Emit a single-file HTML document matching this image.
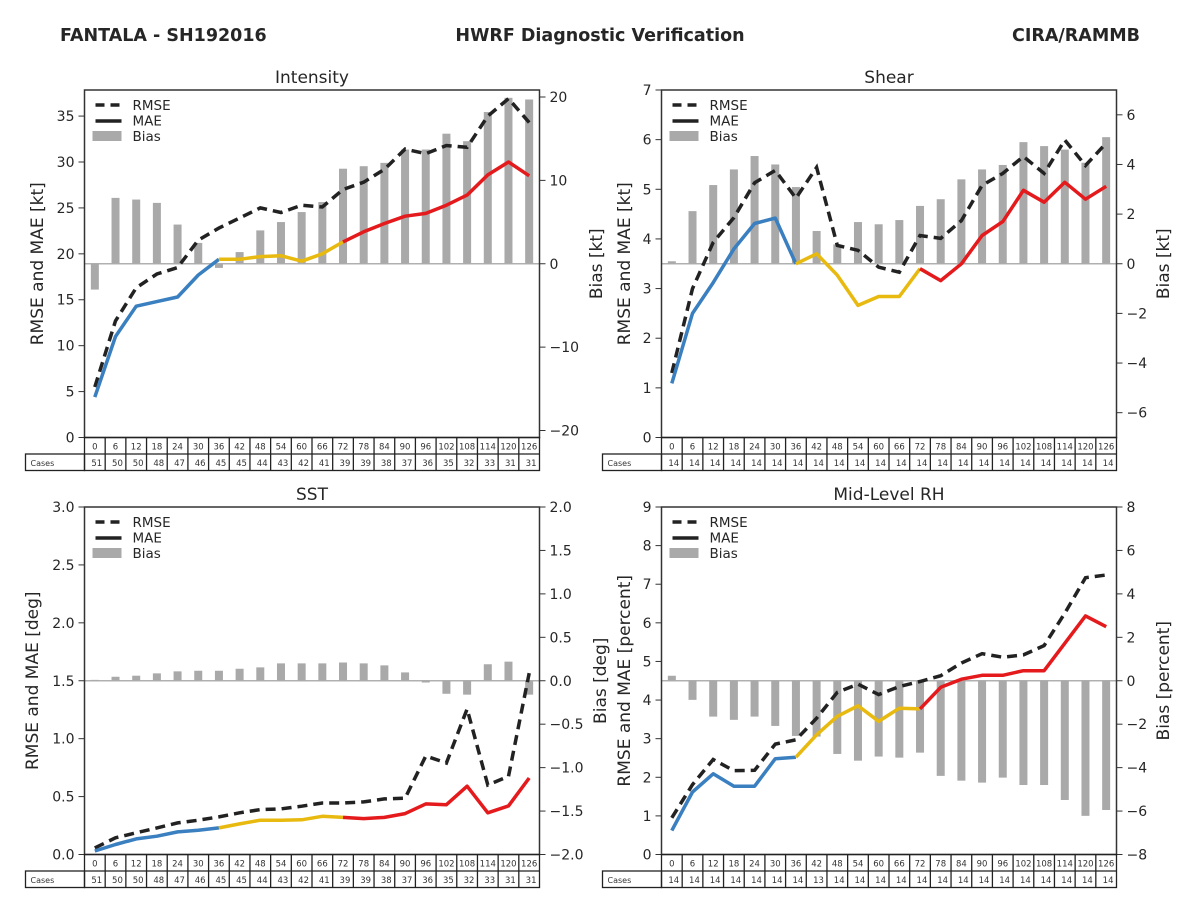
<!DOCTYPE html>
<html><head><meta charset="utf-8"><style>
html,body{margin:0;padding:0;background:#fff;}
svg{display:block;font-family:"DejaVu Sans","Liberation Sans",sans-serif;}
</style></head><body>
<svg id="fig" width="1200" height="900" viewBox="0 0 1200 900" xmlns="http://www.w3.org/2000/svg">
<text x="60" y="41" font-size="17.5" font-weight="bold" fill="#262626">FANTALA - SH192016</text>
<text x="600" y="41" font-size="17.5" font-weight="bold" fill="#262626" text-anchor="middle">HWRF Diagnostic Verification</text>
<text x="1140" y="41" font-size="17.5" font-weight="bold" fill="#262626" text-anchor="end">CIRA/RAMMB</text>
</svg>
<script>
const hours = [0,6,12,18,24,30,36,42,48,54,60,66,72,78,84,90,96,102,108,114,120,126];
const casesA = [51,50,50,48,47,46,45,45,44,43,42,41,39,39,38,37,36,35,32,33,31,31];
const casesShear = [14,14,14,14,14,14,14,14,14,14,14,14,14,14,14,14,14,14,14,14,14,14];
const casesRH = [14,14,14,14,14,14,14,13,14,14,14,14,14,14,14,14,14,14,14,14,14,14];

const intMAE = [4.4,11,14.3,14.8,15.3,17.7,19.4,19.4,19.7,19.8,19.2,20.0,21.3,22.4,23.3,24.1,24.4,25.3,26.4,28.6,30.0,28.5];
const intRMSE = [5.5,12.7,16.3,17.8,18.5,21.5,22.8,23.9,25.0,24.5,25.3,25.1,27.0,27.8,29.2,31.4,30.9,31.8,31.6,35.0,36.9,34.3];
const intBias = [-3.1,7.9,7.7,7.3,4.7,2.5,-0.5,1.4,4.0,5.0,6.2,7.4,11.4,11.7,12.1,13.7,13.7,15.6,14.7,18.2,19.9,19.7];

const shMAE = [1.09,2.5,3.12,3.8,4.31,4.42,3.5,3.7,3.27,2.66,2.84,2.84,3.4,3.16,3.5,4.07,4.35,4.98,4.74,5.14,4.8,5.06];
const shRMSE = [1.3,3.0,3.93,4.43,5.13,5.38,4.82,5.44,3.87,3.77,3.43,3.33,4.07,4.01,4.37,5.08,5.32,5.66,5.32,5.99,5.48,5.93];
const shBias = [0.1,2.12,3.17,3.8,4.34,4.0,3.09,1.32,0.78,1.68,1.59,1.76,2.33,2.6,3.4,3.8,3.98,4.9,4.74,4.6,4.07,5.1];

const sstMAE = [0.03,0.086,0.135,0.158,0.195,0.21,0.23,0.264,0.296,0.296,0.30,0.33,0.32,0.31,0.32,0.353,0.437,0.43,0.59,0.36,0.42,0.66];
const sstRMSE = [0.057,0.144,0.187,0.23,0.273,0.296,0.325,0.36,0.388,0.394,0.417,0.445,0.445,0.454,0.48,0.486,0.85,0.79,1.256,0.60,0.675,1.566];
const sstBias = [0.01,0.046,0.058,0.085,0.108,0.115,0.115,0.138,0.154,0.2,0.2,0.2,0.21,0.2,0.177,0.096,-0.02,-0.15,-0.16,0.19,0.22,-0.16];

const rhMAE = [0.62,1.62,2.09,1.77,1.77,2.48,2.52,3.1,3.58,3.85,3.45,3.79,3.77,4.33,4.54,4.64,4.64,4.76,4.76,5.47,6.18,5.9];
const rhRMSE = [0.95,1.81,2.46,2.17,2.18,2.86,2.97,3.53,4.2,4.41,4.14,4.35,4.48,4.63,4.96,5.2,5.11,5.17,5.41,6.25,7.17,7.24];
const rhBias = [0.23,-0.88,-1.65,-1.8,-1.65,-2.08,-2.54,-2.57,-3.37,-3.68,-3.49,-3.54,-3.31,-4.38,-4.6,-4.69,-4.46,-4.8,-4.8,-5.49,-6.22,-5.95];

const intLeftTicks = [0,5,10,15,20,25,30,35];
const intRightTicks = [20,10,0,-10,-20];
const shLeftTicks = [0,1,2,3,4,5,6,7];
const shRightTicks = [6,4,2,0,-2,-4,-6];
const sstLeftTicks = ["0.0","0.5","1.0","1.5","2.0","2.5","3.0"];
const sstRightTicks = ["2.0","1.5","1.0","0.5","0.0","-0.5","-1.0","-1.5","-2.0"];
const rhLeftTicks = [0,1,2,3,4,5,6,7,8,9];
const rhRightTicks = [8,6,4,2,0,-2,-4,-6,-8];

const NS = "http://www.w3.org/2000/svg";
const fig = document.getElementById('fig');
function mk(tag, attrs, parent, txt){
  const e = document.createElementNS(NS, tag);
  for (const k in attrs) e.setAttribute(k, attrs[k]);
  if (txt !== undefined) e.textContent = txt;
  (parent||fig).appendChild(e);
  return e;
}
function fmtMinus(s){ return String(s).replace('-', '\u2212'); }

function panel(cfg){
  const g = mk('g', {});
  
  
  const L = cfg.x0, R = cfg.x1, T = cfg.y0, B = cfg.y1;
  const n = hours.length, cw = (R - L) / n;
  const xs = i => L + cw * (i + 0.5);
  const yl = v => B - (v - 0) / cfg.lmax * (B - T);
  const yr = v => B - (v + cfg.rmax) / (2 * cfg.rmax) * (B - T);

  const t = mk('text', {x:(L+R)/2, y:T-7, 'font-size':17, 'text-anchor':'middle', fill:'#262626'}, g, cfg.title);
  
  

  const zl = mk('line', {x1:L, x2:R, y1:yr(0), y2:yr(0), stroke:'#b0b0b0', 'stroke-width':1.5}, g);
  
  

  cfg.bias.forEach((v, i) => {
    const y0 = yr(0), y1 = yr(v);
    const r = mk('rect', {x:xs(i)-4, y:Math.min(y0,y1), width:8, height:Math.max(0.8,Math.abs(y1-y0)), fill:'#a9a9a9'}, g);
    
    
  });

  const rp = cfg.rmse.map((v,i)=>(i?'L':'M')+xs(i).toFixed(1)+','+yl(v).toFixed(1)).join(' ');
  const rl = mk('path', {d:rp, fill:'none', stroke:'#222', 'stroke-width':3.5, 'stroke-dasharray':'10,6'}, g);
  
  

  const segs = [[0,6,'#3a7fbf','blue'],[6,12,'#e8b90f','yellow'],[12,21,'#e41a1c','red']];
  segs.forEach(s => {
    let d = '';
    for (let i = s[0]; i <= s[1]; i++) d += (i===s[0]?'M':'L') + xs(i).toFixed(1) + ',' + yl(cfg.mae[i]).toFixed(1) + ' ';
    const p = mk('path', {d:d, fill:'none', stroke:s[2], 'stroke-width':3.5, 'stroke-linejoin':'round'}, g);
    
    
  });

  const fr = mk('rect', {x:L, y:T, width:R-L, height:B-T, fill:'none', stroke:'#333', 'stroke-width':1.5}, g);
  
  

  cfg.lticks.forEach(tv => {
    const v = parseFloat(tv), y = yl(v);
    mk('line', {x1:L-6, x2:L, y1:y, y2:y, stroke:'#333', 'stroke-width':1}, g);
    const tl = mk('text', {x:L-10, y:y+5, 'font-size':14, 'text-anchor':'end', fill:'#262626'}, g, String(tv));
    
    
  });
  cfg.rticks.forEach(tv => {
    const v = parseFloat(tv), y = yr(v);
    mk('line', {x1:R, x2:R+6, y1:y, y2:y, stroke:'#333', 'stroke-width':1}, g);
    const tl = mk('text', {x:R+10, y:y+5, 'font-size':14, fill:'#262626'}, g, fmtMinus(tv));
    
    
  });

  const cy = (T+B)/2;
  const la = mk('text', {x:0, y:0, 'font-size':17, 'text-anchor':'middle', fill:'#262626', transform:'translate('+(cfg.llx)+','+cy+') rotate(-90)'}, g, cfg.lLabel);
  
  
  const ra = mk('text', {x:0, y:0, 'font-size':17, 'text-anchor':'middle', fill:'#262626', transform:'translate('+(cfg.rlx)+','+cy+') rotate(-90)'}, g, cfg.rLabel);
  
  

  const lg = mk('g', {}, g);
  
  
  const lx = L+11;
  mk('line', {x1:lx, x2:lx+26, y1:T+15, y2:T+15, stroke:'#222', 'stroke-width':3.5, 'stroke-dasharray':'9,6'}, lg);
  mk('line', {x1:lx, x2:lx+26, y1:T+31, y2:T+31, stroke:'#222', 'stroke-width':3.5}, lg);
  mk('rect', {x:lx-3, y:T+41, width:29, height:10, fill:'#a9a9a9'}, lg);
  ['RMSE','MAE','Bias'].forEach((s,i)=>{
    const e = mk('text', {x:L+48, y:T+20+i*15.5, 'font-size':13.5, fill:'#262626'}, lg, s);
    
    
  });

  const tb = mk('g', {}, g);
  
  
  const r1 = B, r2 = B+16.5, r3 = B+33;
  mk('rect', {x:L, y:r1, width:R-L, height:r3-r1, fill:'none', stroke:'#222', 'stroke-width':1.3}, tb);
  mk('rect', {x:L-59, y:r2, width:59, height:r3-r2, fill:'none', stroke:'#222', 'stroke-width':1.3}, tb);
  mk('line', {x1:L, x2:R, y1:r2, y2:r2, stroke:'#222', 'stroke-width':1.3}, tb);
  mk('text', {x:L-54, y:r2+12, 'font-size':8, fill:'#333'}, tb, 'Cases');
  hours.forEach((h,i)=>{
    const cx = L + cw*i;
    if (i>0) mk('line', {x1:cx, x2:cx, y1:r1, y2:r3, stroke:'#222', 'stroke-width':1.3}, tb);
    mk('text', {x:cx+cw/2, y:r1+12, 'font-size':8.5, 'text-anchor':'middle', fill:'#333'}, tb, String(h));
    mk('text', {x:cx+cw-3, y:r2+12, 'font-size':8.5, 'text-anchor':'end', fill:'#333'}, tb, String(cfg.cases[i]));
  });
}

panel({key:'intensity', title:'Intensity', x0:84.5, x1:539.5, y0:90, y1:437.5, lmax:37.84, rmax:20.84,
  mae:intMAE, rmse:intRMSE, bias:intBias, cases:casesA, lticks:intLeftTicks, rticks:intRightTicks,
  lLabel:'RMSE and MAE [kt]', rLabel:'Bias [kt]', llx:43, rlx:602});
panel({key:'shear', title:'Shear', x0:661.5, x1:1116.5, y0:90, y1:437.5, lmax:7, rmax:7,
  mae:shMAE, rmse:shRMSE, bias:shBias, cases:casesShear, lticks:shLeftTicks, rticks:shRightTicks,
  lLabel:'RMSE and MAE [kt]', rLabel:'Bias [kt]', llx:630, rlx:1169});
panel({key:'sst', title:'SST', x0:84.5, x1:539.5, y0:507, y1:854.5, lmax:3, rmax:2,
  mae:sstMAE, rmse:sstRMSE, bias:sstBias, cases:casesA, lticks:sstLeftTicks, rticks:sstRightTicks,
  lLabel:'RMSE and MAE [deg]', rLabel:'Bias [deg]', llx:38, rlx:606});
panel({key:'mid-level-rh', title:'Mid-Level RH', x0:661.5, x1:1116.5, y0:507, y1:854.5, lmax:9, rmax:8,
  mae:rhMAE, rmse:rhRMSE, bias:rhBias, cases:casesRH, lticks:rhLeftTicks, rticks:rhRightTicks,
  lLabel:'RMSE and MAE [percent]', rLabel:'Bias [percent]', llx:630, rlx:1169});
</script>
</body></html>
